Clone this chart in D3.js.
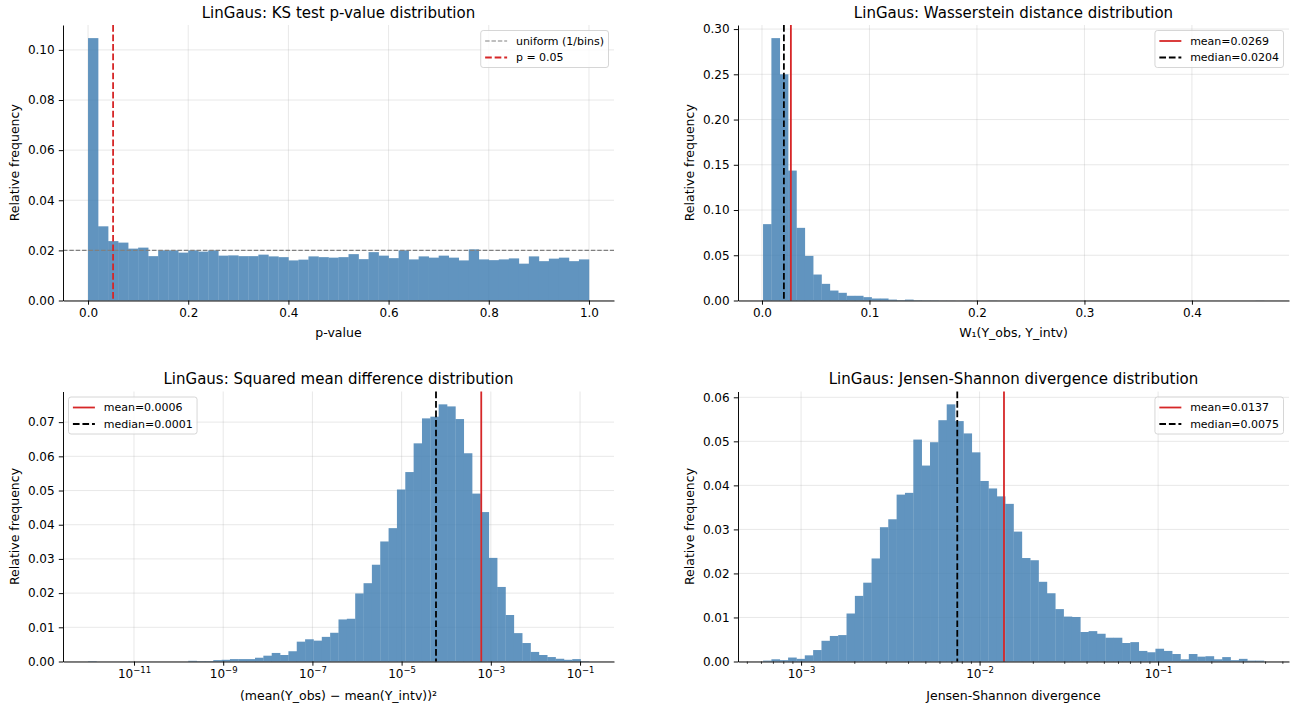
<!DOCTYPE html>
<html>
<head>
<meta charset="utf-8">
<script src="https://cdn.jsdelivr.net/npm/d3@7"></script>
<style>
  body { margin: 0; background: #fff; }
  text { font-family: "DejaVu Sans", sans-serif; fill: #000; }
</style>
</head>
<body>
<div id="chart"></div>
<script>
// ---- data ----
// KS p-values, 50 bins on [0, 1]
var ksRange = [0, 1];
var ksFreq = [0.1047, 0.0296, 0.0237, 0.0231, 0.0207, 0.0211, 0.0177, 0.0200, 0.0200, 0.0191,
  0.0200, 0.0195, 0.0200, 0.0179, 0.0180, 0.0177, 0.0177, 0.0183, 0.0176, 0.0173,
  0.0160, 0.0163, 0.0176, 0.0173, 0.0171, 0.0173, 0.0185, 0.0165, 0.0193, 0.0179,
  0.0169, 0.0200, 0.0164, 0.0176, 0.0171, 0.0179, 0.0171, 0.0160, 0.0204, 0.0164,
  0.0161, 0.0164, 0.0168, 0.0147, 0.0176, 0.0157, 0.0167, 0.0171, 0.0157, 0.0164];
var ksUniform = 0.02;
var ksAlpha = 0.05;
var ksXTicks = [0, 0.2, 0.4, 0.6, 0.8, 1.0];
var ksYTicks = [0, 0.02, 0.04, 0.06, 0.08, 0.10];

// Wasserstein distance, 60 bins
var wassRange = [0.001, 0.467];
var wassFreq = [0.0844, 0.2900, 0.2500, 0.1436, 0.0803, 0.0493, 0.0287, 0.0184, 0.0110, 0.0085,
  0.0052, 0.0052, 0.0037, 0.0022, 0.0022, 0.0010, 0.0004, 0.0010, 0.0003, 0.0002,
  0.0002, 0.0001, 0.0001, 0, 0.0001, 0, 0, 0.0001, 0, 0,
  0, 0, 0, 0, 0, 0, 0, 0, 0, 0,
  0, 0, 0, 0, 0, 0, 0, 0, 0, 0,
  0, 0, 0, 0, 0, 0, 0, 0, 0, 0.0001];
var wassMean = 0.0269;
var wassMedian = 0.0204;
var wassXTicks = [0, 0.1, 0.2, 0.3, 0.4];
var wassYTicks = [0, 0.05, 0.10, 0.15, 0.20, 0.25, 0.30];

// squared mean difference, 60 log bins (range in log10)
var sqLogRange = [-12.03, -0.80];
var sqFreq = [0.0001, 0, 0, 0, 0, 0, 0, 0, 0, 0,
  0, 0, 0.0002, 0.0001, 0.0001, 0.0004, 0.0005, 0.0007, 0.0007, 0.0007,
  0.0011, 0.0017, 0.0025, 0.0019, 0.0030, 0.0058, 0.0065, 0.0061, 0.0072, 0.0084,
  0.0123, 0.0125, 0.0199, 0.0229, 0.0283, 0.0351, 0.0390, 0.0503, 0.0554, 0.0638,
  0.0711, 0.0716, 0.0752, 0.0746, 0.0709, 0.0609, 0.0491, 0.0437, 0.0303, 0.0218,
  0.0136, 0.0083, 0.0054, 0.0028, 0.0019, 0.0013, 0.0008, 0.0005, 0.0007, 0.0001];
var sqMean = 0.00061;
var sqMedian = 0.000059;
var sqXTickExp = [-11, -9, -7, -5, -3, -1];
var sqYTicks = [0, 0.01, 0.02, 0.03, 0.04, 0.05, 0.06, 0.07];

// Jensen-Shannon divergence, 60 log bins (range in log10)
var jsLogRange = [-3.213, -0.407];
var jsFreq = [0.0002, 0.0005, 0.0003, 0.0009, 0.0006, 0.0014, 0.0026, 0.0047, 0.0058, 0.0060,
  0.0109, 0.0149, 0.0179, 0.0234, 0.0305, 0.0323, 0.0379, 0.0383, 0.0504, 0.0445,
  0.0498, 0.0548, 0.0584, 0.0546, 0.0518, 0.0475, 0.0410, 0.0393, 0.0375, 0.0358,
  0.0295, 0.0235, 0.0230, 0.0181, 0.0155, 0.0119, 0.0102, 0.0101, 0.0067, 0.0069,
  0.0063, 0.0054, 0.0054, 0.0042, 0.0044, 0.0024, 0.0021, 0.0029, 0.0024, 0.0017,
  0.0005, 0.0017, 0.0011, 0.0012, 0.0005, 0.0010, 0.0003, 0.0006, 0.0002, 0.0002];
var jsMean = 0.0137;
var jsMedian = 0.0075;
var jsXTickExp = [-3, -2, -1];
var jsYTicks = [0, 0.01, 0.02, 0.03, 0.04, 0.05, 0.06];

// ---- drawing ----
var width = 1291, height = 709;
var barColor = "steelblue";
var red = "#d62728";
var pt = 1.2; // px per point

var svg = d3.select("#chart").append("svg")
  .attr("width", width)
  .attr("height", height);
svg.append("rect").attr("width", width).attr("height", height).attr("fill", "#fff");

function linEdges(lo, hi, n) {
  return d3.range(n + 1).map(function(i) { return lo + (hi - lo) * i / n; });
}

function drawPanel(p) {
  var g = svg.append("g");
  var n = p.freq.length;
  var edges, x, lo, hi, span;
  if (p.log) {
    lo = p.range[0]; hi = p.range[1]; span = hi - lo;
    edges = linEdges(lo, hi, n).map(function(e) { return Math.pow(10, e); });
    x = d3.scaleLog()
      .domain([Math.pow(10, lo - 0.05 * span), Math.pow(10, hi + 0.05 * span)])
      .range([p.left, p.right]);
  } else {
    lo = p.range[0]; hi = p.range[1]; span = hi - lo;
    edges = linEdges(lo, hi, n);
    x = d3.scaleLinear()
      .domain([lo - 0.05 * span, hi + 0.05 * span])
      .range([p.left, p.right]);
  }
  var y = d3.scaleLinear()
    .domain([0, d3.max(p.freq) * 1.05])
    .range([p.bottom, p.top]);

  var xTickVals = p.log ? p.xTickExp.map(function(e) { return Math.pow(10, e); }) : p.xTicks;

  // grid
  g.append("g").selectAll("line").data(xTickVals).enter().append("line")
    .attr("x1", function(d) { return x(d); }).attr("x2", function(d) { return x(d); })
    .attr("y1", p.top).attr("y2", p.bottom)
    .attr("stroke", "#b0b0b0").attr("stroke-opacity", 0.3).attr("stroke-width", 0.8 * pt);
  g.append("g").selectAll("line").data(p.yTicks).enter().append("line")
    .attr("x1", p.left).attr("x2", p.right)
    .attr("y1", function(d) { return y(d); }).attr("y2", function(d) { return y(d); })
    .attr("stroke", "#b0b0b0").attr("stroke-opacity", 0.3).attr("stroke-width", 0.8 * pt);

  // bars (group opacity so neighbouring bars do not leave seams)
  g.append("g").attr("opacity", 0.85)
    .selectAll("rect").data(p.freq).enter().append("rect")
    .attr("x", function(d, i) { return x(edges[i]); })
    .attr("width", function(d, i) { return x(edges[i + 1]) - x(edges[i]) + 0.3; })
    .attr("y", function(d) { return y(d); })
    .attr("height", function(d) { return p.bottom - y(d); })
    .attr("fill", barColor);

  // reference lines
  (p.vlines || []).forEach(function(l) {
    g.append("line")
      .attr("x1", x(l.value)).attr("x2", x(l.value))
      .attr("y1", p.top).attr("y2", p.bottom)
      .attr("stroke", l.color).attr("stroke-width", l.width * pt)
      .attr("stroke-dasharray", l.dash ? (3.7 * l.width * pt) + "," + (1.6 * l.width * pt) : null);
  });
  (p.hlines || []).forEach(function(l) {
    g.append("line")
      .attr("x1", p.left).attr("x2", p.right)
      .attr("y1", y(l.value)).attr("y2", y(l.value))
      .attr("stroke", l.color).attr("stroke-width", l.width * pt)
      .attr("stroke-dasharray", l.dash ? (3.7 * l.width * pt) + "," + (1.6 * l.width * pt) : null);
  });

  // axes
  var xAxis = d3.axisBottom(x).tickValues(xTickVals).tickSize(3.5 * pt).tickPadding(3.5 * pt).tickSizeOuter(0);
  if (!p.log) xAxis.tickFormat(d3.format(".1f"));
  else xAxis.tickFormat(function() { return ""; });
  var gx = g.append("g").attr("transform", "translate(0," + p.bottom + ")").call(xAxis);
  if (p.log) {
    gx.selectAll(".tick text").each(function(d) {
      var t = d3.select(this);
      var e = Math.round(Math.log10(d));
      t.text(null);
      t.append("tspan").text("10");
      t.append("tspan").attr("dy", -5).attr("font-size", "8.5px").text("\u2212" + Math.abs(e));
    });
    if (p.minor) {
      var minors = [];
      d3.range(-5, 1).forEach(function(k) {
        d3.range(2, 10).forEach(function(m) {
          var v = m * Math.pow(10, k);
          if (v > x.domain()[0] && v < x.domain()[1]) minors.push(v);
        });
      });
      g.append("g").selectAll("line").data(minors).enter().append("line")
        .attr("x1", function(d) { return x(d); }).attr("x2", function(d) { return x(d); })
        .attr("y1", p.bottom).attr("y2", p.bottom + 2 * pt)
        .attr("stroke", "#000").attr("stroke-width", 0.6 * pt);
    }
  }
  var gy = g.append("g").attr("transform", "translate(" + p.left + ",0)")
    .call(d3.axisLeft(y).tickValues(p.yTicks).tickFormat(d3.format(".2f"))
      .tickSize(3.5 * pt).tickPadding(3.5 * pt).tickSizeOuter(0));
  [gx, gy].forEach(function(a) {
    a.selectAll("text").attr("font-size", "12px").attr("font-family", "DejaVu Sans").attr("fill", "#000");
    a.selectAll("line").attr("stroke-width", 0.8 * pt);
    a.select(".domain").attr("stroke-width", 0.8 * pt);
  });

  // texts
  g.append("text")
    .attr("x", (p.left + p.right) / 2).attr("y", p.top - 7.5)
    .attr("text-anchor", "middle").attr("font-size", "15px")
    .text(p.title);
  var xl = g.append("text")
    .attr("x", (p.left + p.right) / 2).attr("y", p.bottom + p.xLabelDy)
    .attr("text-anchor", "middle").attr("font-size", "12.5px");
  p.xLabel(xl);
  g.append("text")
    .attr("transform", "translate(" + (p.left - 44) + "," + ((p.top + p.bottom) / 2) + ")rotate(-90)")
    .attr("text-anchor", "middle").attr("font-size", "12.5px")
    .text("Relative frequency");

  drawLegend(g, p);
}

function drawLegend(g, p) {
  var fs = 11;
  var lg = g.append("g");
  var box = lg.append("rect");
  var maxW = 0;
  var texts = p.legend.map(function(item, i) {
    var t = lg.append("text").attr("font-size", fs + "px").text(item.label);
    maxW = Math.max(maxW, t.node().getComputedTextLength());
    return t;
  });
  var bw = 4.4 + 22 + 8.8 + maxW + 4.4;
  var bh = 37;
  var bx = p.legendLeft ? p.left + 5.5 : p.right - 5.5 - bw;
  var by = p.top + 5.5;
  box.attr("x", bx).attr("y", by).attr("width", bw).attr("height", bh)
    .attr("rx", 2.5).attr("fill", "#fff").attr("fill-opacity", 0.8)
    .attr("stroke", "#cccccc").attr("stroke-width", 0.8);
  p.legend.forEach(function(item, i) {
    var cy = by + 10.5 + i * 16.5;
    lg.append("line")
      .attr("x1", bx + 4.4).attr("x2", bx + 4.4 + 22)
      .attr("y1", cy).attr("y2", cy)
      .attr("stroke", item.color).attr("stroke-width", item.width * pt)
      .attr("stroke-dasharray", item.dash ? (3.7 * item.width * pt) + "," + (1.6 * item.width * pt) : null);
    texts[i].attr("x", bx + 4.4 + 22 + 8.8).attr("y", cy).attr("dy", "0.36em");
  });
}

var fmt4 = function(v) { return v.toFixed(4); };

drawPanel({
  left: 63, right: 614, top: 25, bottom: 300.5,
  range: ksRange, freq: ksFreq, xTicks: ksXTicks, yTicks: ksYTicks,
  title: "LinGaus: KS test p-value distribution",
  xLabelDy: 36,
  xLabel: function(t) { t.text("p-value"); },
  hlines: [{ value: ksUniform, color: "gray", width: 1, dash: true }],
  vlines: [{ value: ksAlpha, color: red, width: 1.5, dash: true }],
  legend: [
    { label: "uniform (1/bins)", color: "gray", width: 1, dash: true },
    { label: "p = 0.05", color: red, width: 1.5, dash: true }
  ]
});

drawPanel({
  left: 738, right: 1289, top: 25, bottom: 300.5,
  range: wassRange, freq: wassFreq, xTicks: wassXTicks, yTicks: wassYTicks,
  title: "LinGaus: Wasserstein distance distribution",
  xLabelDy: 36,
  xLabel: function(t) { t.text("W\u2081(Y_obs, Y_intv)"); },
  vlines: [
    { value: wassMean, color: red, width: 1.5, dash: false },
    { value: wassMedian, color: "#000", width: 1.5, dash: true }
  ],
  legend: [
    { label: "mean=" + fmt4(wassMean), color: red, width: 1.5, dash: false },
    { label: "median=" + fmt4(wassMedian), color: "#000", width: 1.5, dash: true }
  ]
});

drawPanel({
  left: 63, right: 614, top: 391.5, bottom: 661.5,
  log: true, range: sqLogRange, freq: sqFreq, xTickExp: sqXTickExp, yTicks: sqYTicks,
  title: "LinGaus: Squared mean difference distribution",
  xLabelDy: 38,
  xLabel: function(t) { t.text("(mean(Y_obs) \u2212 mean(Y_intv))\u00b2"); },
  vlines: [
    { value: sqMean, color: red, width: 1.5, dash: false },
    { value: sqMedian, color: "#000", width: 1.5, dash: true }
  ],
  legendLeft: true,
  legend: [
    { label: "mean=" + fmt4(sqMean), color: red, width: 1.5, dash: false },
    { label: "median=" + fmt4(sqMedian), color: "#000", width: 1.5, dash: true }
  ]
});

drawPanel({
  left: 738, right: 1289, top: 391.5, bottom: 661.5,
  log: true, minor: true, range: jsLogRange, freq: jsFreq, xTickExp: jsXTickExp, yTicks: jsYTicks,
  title: "LinGaus: Jensen-Shannon divergence distribution",
  xLabelDy: 38,
  xLabel: function(t) { t.text("Jensen-Shannon divergence"); },
  vlines: [
    { value: jsMean, color: red, width: 1.5, dash: false },
    { value: jsMedian, color: "#000", width: 1.5, dash: true }
  ],
  legend: [
    { label: "mean=" + fmt4(jsMean), color: red, width: 1.5, dash: false },
    { label: "median=" + fmt4(jsMedian), color: "#000", width: 1.5, dash: true }
  ]
});
</script>
</body>
</html>
